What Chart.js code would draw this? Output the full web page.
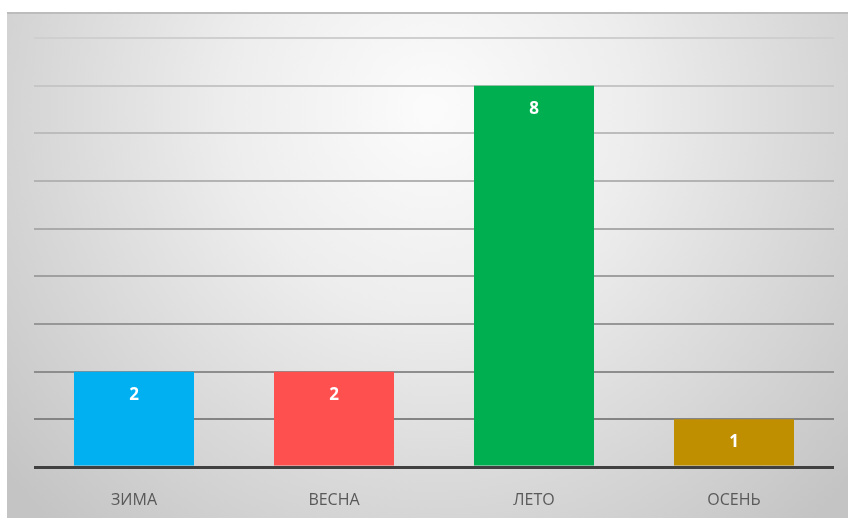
<!DOCTYPE html>
<html>
<head>
<meta charset="utf-8">
<script src="https://cdn.jsdelivr.net/npm/chart.js@4"></script>
<style>
  html, body { margin: 0; padding: 0; background: #ffffff; }
  #wrap { width: 848px; height: 518px; position: relative; }
</style>
</head>
<body>
<div id="wrap"><canvas id="seasons_chart"></canvas></div>
<script>
// data
const seasons      = ['ЗИМА', 'ВЕСНА', 'ЛЕТО', 'ОСЕНЬ'];
const season_votes = [2, 2, 8, 1];
const bar_colors   = ['#00B0F0', '#FF5050', '#00B050', '#BF8F00'];

// gray panel behind the plot, like the office chart frame
const panel_background = {
    id: 'panel_background',
    beforeDraw( chart ){
        const ctx = chart.ctx;
        const x0 = 7, y0 = 12, x1 = chart.width, y1 = chart.height;
        ctx.save();
        const grad = ctx.createRadialGradient( 430, 110, 10, 430, 110, 560 );
        grad.addColorStop( 0, '#fbfbfb' );
        grad.addColorStop( 0.35, '#ededed' );
        grad.addColorStop( 1, '#c4c4c4' );
        ctx.fillStyle = grad;
        ctx.fillRect( x0, y0, x1 - x0, y1 - y0 );
        ctx.fillStyle = '#bcbcbc';
        ctx.fillRect( x0, y0, x1 - x0, 2 );
        ctx.restore();
    }
};

// white numbers inside the top of every bar
const bar_values = {
    id: 'bar_values',
    afterDatasetsDraw( chart ){
        const ctx  = chart.ctx;
        const meta = chart.getDatasetMeta( 0 );
        ctx.save();
        ctx.fillStyle    = '#ffffff';
        ctx.font         = 'bold 17px "Open Sans", sans-serif';
        ctx.textAlign    = 'center';
        ctx.textBaseline = 'middle';
        meta.data.forEach( ( bar, i ) => {
            ctx.fillText( String( season_votes[i] ), bar.x, bar.y + 23 );
        });
        ctx.restore();
    }
};

function grid_color( value ){
    if( value === 0 ){
        return '#404040';
    }
    // darker lines near the bottom, lighter near the top
    let t = ( value - 1 ) / 8;
    let c = Math.round( 0x84 + t * ( 0xcf - 0x84 ) );
    return 'rgb(' + c + ',' + c + ',' + c + ')';
}

const config = {
    type: 'bar',
    data: {
        labels: seasons,
        datasets: [{
            label: 'Голоса',
            data: season_votes,
            backgroundColor: bar_colors,
            borderWidth: 0,
            categoryPercentage: 1.0,
            barPercentage: 0.6
        }]
    },
    options: {
        responsive: false,
        animation: false,
        layout: {
            padding: { left: 34, right: 14, top: 38, bottom: 0 }
        },
        scales: {
            x: {
                grid: { display: false },
                border: { display: false },
                ticks: {
                    color: '#595959',
                    font: { family: '"Open Sans", sans-serif', size: 16 },
                    padding: 16
                },
                afterFit( scale ){ scale.height = 51; }
            },
            y: {
                min: 0,
                max: 9,
                ticks: { display: false, stepSize: 1 },
                border: { display: false },
                grid: {
                    drawTicks: false,
                    color: ( c ) => grid_color( c.tick.value ),
                    lineWidth: ( c ) => c.tick.value === 0 ? 3 : 2
                },
                afterFit( scale ){ scale.width = 0; }
            }
        },
        plugins: {
            legend: { display: false },
            tooltip: { enabled: false }
        }
    },
    plugins: [ panel_background, bar_values ]
};

const canvas = document.getElementById('seasons_chart');
canvas.width  = 848;
canvas.height = 518;
const seasons_chart = new Chart( canvas, config );
</script>
</body>
</html>
